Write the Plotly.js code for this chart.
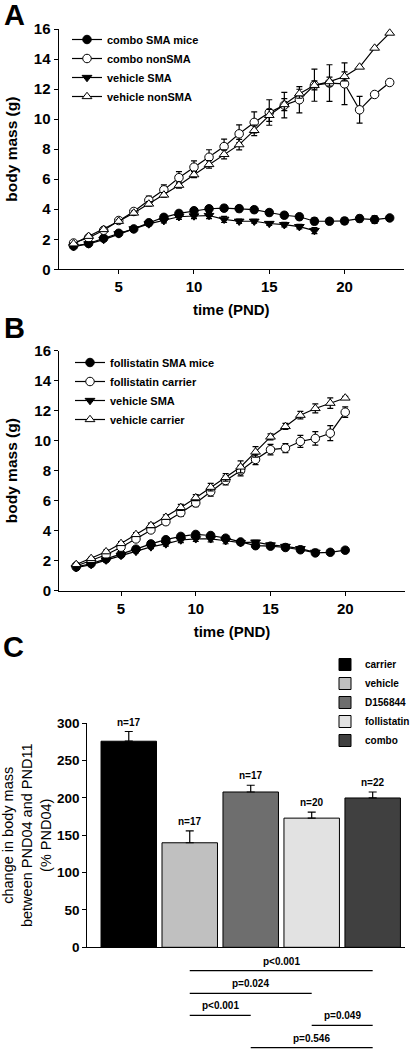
<!DOCTYPE html>
<html><head><meta charset="utf-8">
<script src="https://cdn.plot.ly/plotly-3.0.1.min.js"></script>
<style>html,body{margin:0;padding:0;background:#fff}#chart{width:415px;height:1050px}</style>
</head><body><div id="chart"></div>
<script>
// ---------- Panel A data ----------
const daysA = [2,3,4,5,6,7,8,9,10,11,12,13,14,15,16,17,18,19,20,21,22,23];
const comboSMA = [1.55,1.72,2.07,2.4,2.69,3.1,3.46,3.72,3.9,4.03,4.07,4.04,3.97,3.78,3.6,3.5,3.2,3.2,3.22,3.38,3.31,3.42];
const comboSMAErr = [0.1,0.1,0.12,0.12,0.12,0.15,0.17,0.18,0.18,0.2,0.2,0.2,0.2,0.2,0.2,0.2,0.22,0.2,0.22,0.22,0.25,0];
const comboNonSMA = [1.75,2.1,2.6,3.25,3.85,4.6,5.29,6.1,6.8,7.46,8.17,9.02,9.78,10.44,10.93,11.29,12.26,12.4,12.35,10.62,11.64,12.44];
const comboNonSMAErr = [0.08,0.1,0.12,0.15,0.15,0.27,0.33,0.4,0.42,0.5,0.5,0.6,0.7,0.85,0.85,0.87,1.07,1.22,1.39,0.89,0,0];
const daysVehA = [2,3,4,5,6,7,8,9,10,11,12,13,14,15,16,17,18];
const vehicleSMA_A = [1.51,1.69,1.98,2.36,2.69,3.02,3.24,3.5,3.55,3.58,3.33,3.2,3.2,3.05,2.97,2.84,2.58];
const vehicleSMA_AErr = [0.08,0.08,0.1,0.1,0.1,0.12,0.15,0.17,0.18,0.2,0.2,0.15,0.12,0.12,0.15,0.15,0.2];
const vehicleNonSMA = [1.7,2.2,2.65,3.2,3.75,4.35,4.95,5.6,6.3,6.98,7.65,8.3,9.25,10.25,10.97,11.69,12.25,12.5,12.84,13.47,14.73,15.73];
const vehicleNonSMAErr = [0.05,0.08,0.1,0.1,0.12,0.15,0.15,0.2,0.2,0.25,0.3,0.35,0.35,0.4,0.4,0.3,0.3,0.3,0.3,0,0,0];

// ---------- Panel B data ----------
const daysB = [2,3,4,5,6,7,8,9,10,11,12,13,14,15,16,17,18,19,20];
const follSMA = [1.58,1.81,2.12,2.43,2.77,3.12,3.4,3.62,3.75,3.68,3.5,3.25,3.0,2.97,2.88,2.73,2.52,2.56,2.7];
const follSMAErr = [0.08,0.08,0.1,0.1,0.12,0.12,0.12,0.13,0.13,0.13,0.13,0.12,0.1,0.1,0.12,0.12,0.12,0.1,0.08];
const follCarrier = [1.65,2.0,2.4,2.9,3.45,4.05,4.6,5.2,5.85,6.6,7.35,8.0,8.75,9.4,9.5,9.95,10.15,10.5,11.9];
const follCarrierErr = [0.05,0.08,0.1,0.12,0.15,0.15,0.2,0.25,0.25,0.3,0.3,0.35,0.35,0.35,0.3,0.4,0.45,0.5,0.35];
const daysVehB = [2,3,4,5,6,7,8,9,10,11,12,13,14,15,16,17,18];
const vehicleSMA_B = [1.53,1.74,2.04,2.35,2.62,2.92,3.12,3.38,3.46,3.46,3.33,3.2,3.24,3.05,2.95,2.8,2.56];
const vehicleSMA_BErr = [0.08,0.08,0.1,0.1,0.1,0.12,0.15,0.17,0.18,0.2,0.2,0.15,0.12,0.12,0.15,0.15,0.2];
const vehicleCarrier = [1.75,2.15,2.6,3.15,3.75,4.35,4.9,5.55,6.2,6.9,7.55,8.25,9.25,10.25,10.95,11.7,12.15,12.5,12.85];
const vehicleCarrierErr = [0.05,0.08,0.1,0.12,0.12,0.15,0.15,0.2,0.2,0.25,0.25,0.4,0.35,0.2,0.2,0.25,0.3,0.35,0.1];

// ---------- Panel C data ----------
const groups = ['carrier','vehicle','D156844','follistatin','combo'];
const changePct = [276,140,208,173,200];
const changeErr = [13,16,9,8,8];
const nLabels = ['n=17','n=17','n=17','n=20','n=22'];
const barColors = ['#000000','#c0c0c0','#6e6e6e','#e2e2e2','#404040'];
const compFrom = ['vehicle','vehicle','vehicle','follistatin','D156844'];
const compTo = ['combo','follistatin','D156844','combo','combo'];
const pLabels = ['p<0.001','p=0.024','p<0.001','p=0.049','p=0.546'];

// ---------- layout helpers ----------
const W = 415, H = 1050;
const fx = px => px / W;
const fy = py => 1 - py / H;
const FAM = 'Liberation Sans, Arial, sans-serif';
const bold = (s) => ({family: FAM, size: s, color: '#000', weight: 700});

function series(name, x, y, err, symbol, fill, xa, ya, lg) {
  return {
    type: 'scatter', mode: 'lines+markers', name: name, x: x, y: y,
    xaxis: xa, yaxis: ya, legend: lg,
    line: {color: '#000', width: 1.2},
    marker: {symbol: symbol, size: 8.5, color: fill, line: {color: '#000', width: 1}},
    error_y: {type: 'data', array: err, visible: true, color: '#000', thickness: 1.2, width: 3},
    cliponaxis: false
  };
}

const traces = [
  series('combo SMA mice', daysA, comboSMA, comboSMAErr, 'circle', '#000', 'x', 'y', 'legend'),
  series('combo nonSMA', daysA, comboNonSMA, comboNonSMAErr, 'circle', '#fff', 'x', 'y', 'legend'),
  series('vehicle SMA', daysVehA, vehicleSMA_A, vehicleSMA_AErr, 'triangle-down', '#000', 'x', 'y', 'legend'),
  series('vehicle nonSMA', daysA, vehicleNonSMA, vehicleNonSMAErr, 'triangle-up', '#fff', 'x', 'y', 'legend'),
  series('follistatin SMA mice', daysB, follSMA, follSMAErr, 'circle', '#000', 'x2', 'y2', 'legend2'),
  series('follistatin carrier', daysB, follCarrier, follCarrierErr, 'circle', '#fff', 'x2', 'y2', 'legend2'),
  series('vehicle SMA', daysVehB, vehicleSMA_B, vehicleSMA_BErr, 'triangle-down', '#000', 'x2', 'y2', 'legend2'),
  series('vehicle carrier', daysB, vehicleCarrier, vehicleCarrierErr, 'triangle-up', '#fff', 'x2', 'y2', 'legend2')
];

groups.forEach((g, i) => {
  traces.push({
    type: 'bar', name: g, x: [g], y: [changePct[i]], xaxis: 'x3', yaxis: 'y3', legend: 'legend3',
    width: 0.91,
    marker: {color: barColors[i], line: {color: '#000', width: 1}},
    error_y: {type: 'data', symmetric: false, array: [changeErr[i]], arrayminus: [0], color: '#000', thickness: 1.2, width: 4}
  });
});

const axBase = {
  showline: true, linecolor: '#000', linewidth: 1, showgrid: false, zeroline: false,
  ticks: 'outside', ticklen: 4, tickwidth: 1, tickcolor: '#000', tickfont: bold(15), fixedrange: true
};

const annotations = [
  {text: 'A', xref: 'paper', yref: 'paper', x: fx(14), y: fy(15), xanchor: 'center', yanchor: 'middle', showarrow: false, font: bold(29)},
  {text: 'B', xref: 'paper', yref: 'paper', x: fx(14), y: fy(328), xanchor: 'center', yanchor: 'middle', showarrow: false, font: bold(29)},
  {text: 'C', xref: 'paper', yref: 'paper', x: fx(13), y: fy(647), xanchor: 'center', yanchor: 'middle', showarrow: false, font: bold(29)}
];
groups.forEach((g, i) => {
  annotations.push({text: nLabels[i], xref: 'x3', yref: 'y3', x: i, y: changePct[i] + changeErr[i],
    xanchor: 'center', yanchor: 'bottom', yshift: 2, showarrow: false, font: bold(10)});
});

const lineY = [970.7, 993.3, 1015.3, 1025.3, 1047.7];
const shapes = [];
pLabels.forEach((p, k) => {
  const a = groups.indexOf(compFrom[k]), b = groups.indexOf(compTo[k]);
  shapes.push({type: 'line', xref: 'x3', yref: 'paper', x0: a, x1: b, y0: fy(lineY[k]), y1: fy(lineY[k]),
    line: {color: '#000', width: 1.2}});
  annotations.push({text: p, xref: 'x3', yref: 'paper', x: (a + b) / 2, y: fy(lineY[k]),
    xanchor: 'center', yanchor: 'bottom', yshift: 2, showarrow: false, font: bold(10)});
});

const legBase = {xanchor: 'left', yanchor: 'top', bgcolor: 'rgba(0,0,0,0)', borderwidth: 0, tracegroupgap: 0};

const layout = {
  width: W, height: H, margin: {l: 0, r: 0, t: 0, b: 0},
  paper_bgcolor: '#fff', plot_bgcolor: '#fff',
  font: {family: FAM, color: '#000'},
  barmode: 'overlay', hovermode: false,
  xaxis: Object.assign({}, axBase, {domain: [fx(58.5), fx(404)], range: [1, 23.95], anchor: 'y',
    tickvals: [5, 10, 15, 20],
    title: {text: 'time (PND)', font: bold(15), standoff: 10}}),
  yaxis: Object.assign({}, axBase, {domain: [fy(269.3), fy(29)], range: [0, 16], anchor: 'x', dtick: 2,
    title: {text: 'body mass (g)', font: bold(15.5), standoff: 12}}),
  xaxis2: Object.assign({}, axBase, {domain: [fx(59), fx(405)], range: [0.85, 24], anchor: 'y2',
    tickvals: [5, 10, 15, 20],
    title: {text: 'time (PND)', font: bold(15), standoff: 10}}),
  yaxis2: Object.assign({}, axBase, {domain: [fy(590.7), fy(350.7)], range: [0, 16], anchor: 'x2', dtick: 2,
    title: {text: 'body mass (g)', font: bold(15.5), standoff: 12}}),
  xaxis3: Object.assign({}, axBase, {domain: [fx(87.3), fx(405)], range: [-0.68, 4.53], anchor: 'y3',
    type: 'category', ticks: '', showticklabels: false}),
  yaxis3: Object.assign({}, axBase, {domain: [fy(947.3), fy(723.3)], range: [0, 300], anchor: 'x3', dtick: 50,
    tickfont: bold(13.5),
    title: {text: 'change in body mass<br>between PND04 and PND11<br>(% PND04)', font: {family: FAM, size: 14.5, color: '#000'}, standoff: 6}}),
  legend: Object.assign({}, legBase, {x: fx(67), y: fy(25), font: bold(11)}),
  legend2: Object.assign({}, legBase, {x: fx(70), y: fy(348), font: bold(11)}),
  legend3: Object.assign({}, legBase, {x: fx(325), y: fy(650), font: bold(10)}),
  annotations: annotations,
  shapes: shapes
};

Plotly.newPlot('chart', traces, layout, {staticPlot: true, displayModeBar: false});
</script>
</body></html>
